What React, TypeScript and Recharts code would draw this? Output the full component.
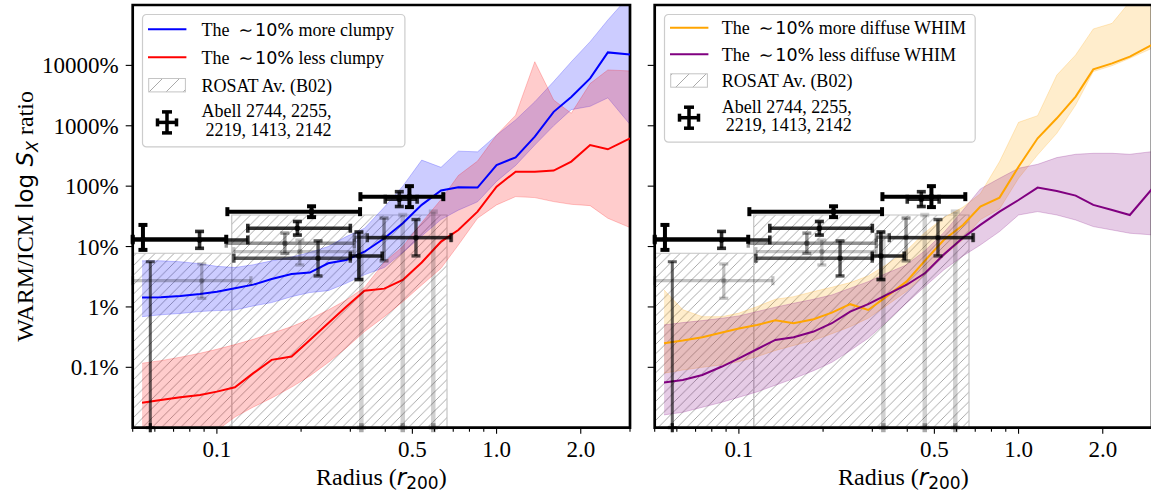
import React from "react";
import {
  ComposedChart,
  Area,
  Line,
  Scatter,
  ErrorBar,
  XAxis,
  YAxis,
  ReferenceArea,
  Legend,
} from "recharts";

const SERIF = '"Liberation Serif", "Times New Roman", serif';
const SANS = '"DejaVu Sans", sans-serif';

// radial grid of the simulated profiles (r / r200)
const radius = [0.054, 0.063, 0.074, 0.087, 0.1, 0.116, 0.135, 0.157, 0.185, 0.215, 0.25, 0.29, 0.337, 0.397, 0.462, 0.54, 0.633, 0.73, 0.855, 1.0, 1.17, 1.37, 1.6, 1.85, 2.16, 2.5, 3.0];

// ~10% more clumpy (blue)
const moreClumpy = [0.0143, 0.0145, 0.0152, 0.0164, 0.0179, 0.0204, 0.0234, 0.029, 0.0352, 0.037, 0.0528, 0.06, 0.082, 0.137, 0.243, 0.49, 0.85, 0.955, 0.946, 2.24, 3.0, 6.6, 17, 30, 61, 164, 152];
const moreClumpyLow = [0.0069, 0.0074, 0.0078, 0.0084, 0.0087, 0.0089, 0.0104, 0.0118, 0.0148, 0.0173, 0.0186, 0.0246, 0.034, 0.045, 0.08, 0.15, 0.28, 0.4, 0.55, 1.2, 2.2, 4.8, 10, 18.5, 21, 29, 10.5];
const moreClumpyHigh = [0.058, 0.058, 0.056, 0.052, 0.047, 0.045, 0.05, 0.058, 0.067, 0.08, 0.1, 0.146, 0.2, 0.45, 1.0, 2.7, 2.05, 3.8, 3.7, 7.0, 12.5, 25, 54, 115, 247, 565, 1465];

// ~10% less clumpy (red)
const lessClumpy = [0.00026, 0.000288, 0.000319, 0.000349, 0.000396, 0.000467, 0.0008, 0.00133, 0.00151, 0.00284, 0.00537, 0.0101, 0.0186, 0.0201, 0.028, 0.0545, 0.121, 0.188, 0.379, 0.98, 1.74, 1.74, 1.81, 2.55, 4.8, 4.08, 6.2];
const lessClumpyLow = [0.00003, 0.00004, 0.00005, 0.00006, 0.00009, 0.00015, 0.00022, 0.00031, 0.00047, 0.00072, 0.0012, 0.0021, 0.0039, 0.0069, 0.0122, 0.0231, 0.0436, 0.106, 0.294, 0.489, 0.671, 0.646, 0.555, 0.5, 0.476, 0.294, 0.206];
const lessClumpyHigh = [0.00117, 0.00129, 0.00147, 0.00171, 0.00199, 0.00238, 0.00291, 0.00366, 0.00472, 0.0063, 0.0089, 0.013, 0.021, 0.055, 0.1, 0.25, 0.6, 1.5, 2.6, 7.0, 15, 115, 26.7, 16.1, 50, 84, 81];

// ~10% more diffuse WHIM (orange)
const moreDiffuse = [0.0025, 0.00277, 0.00315, 0.00376, 0.00438, 0.00503, 0.006, 0.00537, 0.00625, 0.00806, 0.0111, 0.0089, 0.0148, 0.0262, 0.058, 0.128, 0.228, 0.458, 0.646, 2.1, 6.2, 13.3, 30.4, 86, 108, 140, 218];
const moreDiffuseLow = [0.0008, 0.0009, 0.001, 0.0011, 0.00124, 0.0015, 0.0019, 0.0023, 0.0028, 0.0036, 0.0047, 0.0065, 0.0105, 0.018, 0.034, 0.07, 0.13, 0.28, 0.42, 1.35, 3.3, 7.5, 22, 79, 99, 131, 192];
const moreDiffuseHigh = [0.0191, 0.009, 0.0069, 0.0069, 0.0079, 0.0101, 0.0134, 0.0148, 0.018, 0.0212, 0.0253, 0.0326, 0.05, 0.085, 0.17, 0.3, 0.45, 0.75, 2.55, 11.4, 14.7, 69, 149, 401, 497, 1135, 3500];

// ~10% less diffuse WHIM (purple)
const lessDiffuse = [0.000558, 0.000618, 0.000748, 0.00103, 0.00141, 0.00199, 0.00284, 0.00315, 0.00391, 0.00537, 0.00838, 0.0111, 0.0158, 0.0231, 0.036, 0.074, 0.14, 0.228, 0.379, 0.59, 0.946, 0.833, 0.697, 0.489, 0.403, 0.333, 0.9];
const lessDiffuseLow = [0.000163, 0.00018, 0.000218, 0.000264, 0.000319, 0.000391, 0.000505, 0.00065, 0.00088, 0.00121, 0.00189, 0.00303, 0.0057, 0.0115, 0.0217, 0.041, 0.07, 0.106, 0.177, 0.333, 0.379, 0.333, 0.275, 0.214, 0.188, 0.166, 0.156];
const lessDiffuseHigh = [0.00503, 0.0055, 0.00594, 0.0065, 0.0071, 0.00837, 0.0099, 0.0115, 0.0134, 0.0158, 0.0204, 0.0262, 0.036, 0.0495, 0.085, 0.17, 0.4, 0.9, 1.35, 1.98, 2.3, 2.97, 3.37, 3.5, 3.5, 3.37, 3.73];

// ROSAT average (B02), stepped hatched region
const rosatEdges = [0.05, 0.113, 0.665];
const rosatTop = [0.0774, 0.333];

// Abell 2744, 2255, 2219, 1413, 2142 measurements
const obsRadius = [0.0544, 0.218, 0.488, 0.0867, 0.194, 0.449, 0.322, 0.23, 0.515, 0.0578, 0.175, 0.396, 0.0883, 0.198, 0.3285, 0.462, 0.594];
const obsRadiusLow = [0.03, 0.109, 0.326, 0.03, 0.129, 0.4, 0.3, 0.115, 0.345, 0.0578, 0.108, 0.31, 0.03, 0.115, 0.3285, 0.462, 0.594];
const obsRadiusHigh = [0.108, 0.325, 0.645, 0.129, 0.3, 0.52, 0.39, 0.3, 0.687, 0.0578, 0.31, 0.69, 0.1323, 0.31, 0.3285, 0.462, 0.594];
const obsRatio = [0.132, 0.378, 0.67, 0.1285, 0.201, 0.607, 0.0698, 0.064, 0.14, 0.00005, 0.1135, 0.142, 0.0272, 0.0824, 0.00005, 0.00005, 0.00005];
const obsRatioLow = [0.088, 0.307, 0.45, 0.0935, 0.155, 0.46, 0.0284, 0.0326, 0.07, 0.00002, 0.077, 0.058, 0.0139, 0.0495, 0.00002, 0.00002, 0.00002];
const obsRatioHigh = [0.228, 0.464, 1.0, 0.178, 0.26, 0.81, 0.174, 0.124, 0.28, 0.056, 0.167, 0.296, 0.0515, 0.128, 0.15, 0.333, 0.378];
const obsShade = [0, 0, 0, 1, 1, 1, 1, 2, 2, 3, 4, 4, 5, 5, 6, 6, 6];

const shades = [
  { alpha: 1, lw: 4, dot: true },
  { alpha: 0.82, lw: 3.6, dot: true },
  { alpha: 0.66, lw: 3.4, dot: true },
  { alpha: 0.62, lw: 3, dot: false },
  { alpha: 0.42, lw: 3.4, dot: true },
  { alpha: 0.24, lw: 3.2, dot: true },
  { alpha: 0.18, lw: 4.5, dot: false },
];

const xMajorTicks = [0.1, 0.5, 1, 2];
const xMajorLabels = ["0.1", "0.5", "1.0", "2.0"];
const xMinorTicks = [0.05, 0.06, 0.07, 0.08, 0.09, 0.2, 0.3, 0.4, 0.6, 0.7, 0.8, 0.9, 3];
const yTicks = [0.001, 0.01, 0.1, 1, 10, 100];
const yTickLabels = ["0.1%", "1%", "10%", "100%", "1000%", "10000%"];

const X_DOMAIN = [0.05, 3];
const Y_DOMAIN = [0.0001, 1000];

const clamp = (v: number, d: number[]) => Math.min(Math.max(v, d[0]), d[1]);

const clumpRows = radius.map((r, i) => ({
  r,
  a: moreClumpy[i],
  aBand: [moreClumpyLow[i], moreClumpyHigh[i]],
  b: lessClumpy[i],
  bBand: [lessClumpyLow[i], lessClumpyHigh[i]],
}));

const whimRows = radius.map((r, i) => ({
  r,
  a: moreDiffuse[i],
  aBand: [moreDiffuseLow[i], moreDiffuseHigh[i]],
  b: lessDiffuse[i],
  bBand: [lessDiffuseLow[i], lessDiffuseHigh[i]],
}));

// error bars are cut at the frame, as the axes clip them in the original
const obsGroups = shades.map((_, s) =>
  obsRadius
    .map((r, i) => {
      const v = clamp(obsRatio[i], Y_DOMAIN);
      return {
        r,
        v,
        ex: [r - clamp(obsRadiusLow[i], X_DOMAIN), clamp(obsRadiusHigh[i], X_DOMAIN) - r],
        ey: [v - clamp(obsRatioLow[i], Y_DOMAIN), clamp(obsRatioHigh[i], Y_DOMAIN) - v],
        s: obsShade[i],
      };
    })
    .filter((p) => p.s === s)
);

const XTick = (props: any) => {
  const { x, y, payload } = props;
  const idx = xMajorTicks.indexOf(payload.value);
  const major = idx >= 0;
  return (
    <g>
      <line x1={x} x2={x} y1={y} y2={y + (major ? 6 : 4)} stroke="#000" strokeWidth={1.1} />
      {major && (
        <text x={x} y={y + 29} textAnchor="middle" fontSize={23} fontFamily={SERIF} fill="#000">
          {xMajorLabels[idx]}
        </text>
      )}
    </g>
  );
};

const makeYTick = (showLabel: boolean) => (props: any) => {
  const { x, y, payload } = props;
  const idx = yTicks.indexOf(payload.value);
  return (
    <g>
      <line x1={x - 7} x2={x} y1={y} y2={y} stroke="#000" strokeWidth={1.1} />
      {showLabel && idx >= 0 && (
        <text x={x - 14} y={y} dy="0.35em" textAnchor="end" fontSize={23} fontFamily={SERIF} fill="#000">
          {yTickLabels[idx]}
        </text>
      )}
    </g>
  );
};

const YTitle = (props: any) => {
  const vb = props.viewBox || { x: 0, y: 5, width: 132, height: 423 };
  const cx = vb.x + 25;
  const cy = vb.y + vb.height / 2;
  return (
    <text x={cx} y={cy} dy="0.35em" textAnchor="middle" transform={`rotate(-90, ${cx}, ${cy})`} fontSize={24} fontFamily={SERIF} fill="#000">
      WARM/ICM{" "}
      <tspan fontFamily={SANS} fontSize={23}>log </tspan>
      <tspan fontFamily={SANS} fontStyle="italic" fontSize={23}>S</tspan>
      <tspan fontFamily={SANS} fontStyle="italic" fontSize={16} dy={5}>X</tspan>
      <tspan dy={-5}> ratio</tspan>
    </text>
  );
};

const XTitle = (props: any) => {
  const vb = props.viewBox || { x: 132, y: 428, width: 497, height: 67 };
  return (
    <text x={vb.x + vb.width / 2} y={vb.y + 57} textAnchor="middle" fontSize={24} fontFamily={SERIF} fill="#000">
      Radius (<tspan fontFamily={SANS} fontStyle="italic" fontSize={23}>r</tspan>
      <tspan fontFamily={SANS} fontSize={17} dy={4}>200</tspan>
      <tspan dy={-4}>)</tspan>
    </text>
  );
};

type LegendLayout = { left: number; top: number; w: number; h: number; textX: number; rows: number[] };

const HatchPattern = ({ id, step }: { id: string; step: number }) => {
  const q = step / 4;
  return (
    <pattern id={id} patternUnits="userSpaceOnUse" width={step} height={step}>
      <path
        d={`M${-q},${q} L${q},${-q} M0,${step} L${step},0 M${step - q},${step + q} L${step + q},${step - q}`}
        stroke="#a0a0a0"
        strokeWidth={0.9}
      />
    </pattern>
  );
};

const LegendPanel = ({ layout, labels, colors, hatchId }: { layout: LegendLayout; labels: string[]; colors: string[]; hatchId: string }) => {
  const { w, h, textX, rows } = layout;
  const cx = 25;
  const cy = rows[3] + 5;
  return (
    <svg width={w} height={h} style={{ display: "block", overflow: "visible" }}>
      <defs>
        <HatchPattern id={hatchId} step={17} />
      </defs>
      <rect x={0.5} y={0.5} width={w - 1} height={h - 1} rx={4} fill="#fff" fillOpacity={0.8} stroke="#cccccc" strokeWidth={1.2} />
      {[0, 1].map((i) => (
        <g key={i}>
          <line x1={6} x2={44.4} y1={rows[i] - 6.5} y2={rows[i] - 6.5} stroke={colors[i]} strokeWidth={2} />
          <text x={textX} y={rows[i]} fontSize={18} fontFamily={SERIF} fill="#000">
            The
            <tspan dx={9} fontFamily={SANS} fontSize={17.5}>∼</tspan>
            <tspan dx={2} fontFamily={SANS} fontSize={17.5}>10%</tspan>
            {" " + labels[i]}
          </text>
        </g>
      ))}
      <rect x={6.7} y={rows[2] - 13.5} width={36.7} height={13.4} fill={`url(#${hatchId})`} stroke="#c4c4c4" strokeWidth={1} />
      <text x={textX} y={rows[2]} fontSize={18} fontFamily={SERIF} fill="#000">
        {labels[2]}
      </text>
      <g stroke="#000" strokeWidth={3.5}>
        <line x1={cx - 9.5} x2={cx + 9.5} y1={cy} y2={cy} />
        <line x1={cx} x2={cx} y1={cy - 10.5} y2={cy + 10.5} />
        <line x1={cx - 9.5} x2={cx - 9.5} y1={cy - 4} y2={cy + 4} />
        <line x1={cx + 9.5} x2={cx + 9.5} y1={cy - 4} y2={cy + 4} />
        <line x1={cx - 5} x2={cx + 5} y1={cy - 10.5} y2={cy - 10.5} />
        <line x1={cx - 5} x2={cx + 5} y1={cy + 10.5} y2={cy + 10.5} />
      </g>
      <text x={textX} y={rows[3]} fontSize={18} fontFamily={SERIF} fill="#000">
        {labels[3]}
      </text>
      <text x={textX + 4} y={rows[4]} fontSize={18} fontFamily={SERIF} fill="#000">
        {labels[4]}
      </text>
    </svg>
  );
};

type PanelProps = {
  id: string;
  width: number;
  yAxisWidth: number;
  marginRight: number;
  showYLabels: boolean;
  rows: any[];
  colors: string[];
  labels: string[];
  legend: LegendLayout;
};

const Panel = ({ id, width, yAxisWidth, marginRight, showYLabels, rows, colors, labels, legend }: PanelProps) => (
  <ComposedChart width={width} height={495} data={rows} margin={{ top: 5, right: marginRight, bottom: 0, left: 0 }}>
    <defs>
      <HatchPattern id={`hatch-${id}`} step={9.5} />
    </defs>
    <XAxis
      dataKey="r"
      type="number"
      scale="log"
      domain={X_DOMAIN}
      allowDataOverflow
      ticks={[...xMinorTicks, ...xMajorTicks].sort((p, q) => p - q)}
      interval={0}
      tickSize={0}
      tickMargin={0}
      tickLine={false}
      axisLine={false}
      height={67.3}
      tick={XTick}
      label={XTitle}
    />
    <YAxis
      type="number"
      scale="log"
      domain={Y_DOMAIN}
      allowDataOverflow
      ticks={yTicks}
      interval={0}
      tickSize={0}
      tickMargin={0}
      tickLine={false}
      axisLine={false}
      width={yAxisWidth}
      tick={makeYTick(showYLabels)}
      label={showYLabels ? YTitle : undefined}
    />
    {rosatTop.map((top, i) => (
      <ReferenceArea
        key={`rosat-${i}`}
        x1={rosatEdges[i]}
        x2={rosatEdges[i + 1]}
        y1={Y_DOMAIN[0]}
        y2={top}
        fill={`url(#hatch-${id})`}
        fillOpacity={1}
        stroke="#c4c4c4"
        strokeWidth={1.2}
      />
    ))}
    <Area type="linear" dataKey="aBand" fill={colors[0]} fillOpacity={0.2} stroke={colors[0]} strokeOpacity={0.22} strokeWidth={1} isAnimationActive={false} activeDot={false} />
    <Area type="linear" dataKey="bBand" fill={colors[1]} fillOpacity={0.2} stroke={colors[1]} strokeOpacity={0.22} strokeWidth={1} isAnimationActive={false} activeDot={false} />
    <Line type="linear" dataKey="a" stroke={colors[0]} strokeWidth={2} dot={false} activeDot={false} isAnimationActive={false} />
    <Line type="linear" dataKey="b" stroke={colors[1]} strokeWidth={2} dot={false} activeDot={false} isAnimationActive={false} />
    {obsGroups.map((pts, s) => (
      <Scatter
        key={`obs-${s}`}
        data={pts}
        dataKey="v"
        isAnimationActive={false}
        shape={(p: any) =>
          shades[s].dot ? <circle cx={p.cx} cy={p.cy} r={2.8} fill="#000" fillOpacity={shades[s].alpha} /> : <g />
        }
      >
        <ErrorBar dataKey="ex" direction="x" width={4.5} stroke="#000" strokeOpacity={shades[s].alpha} strokeWidth={shades[s].lw} isAnimationActive={false} />
        <ErrorBar dataKey="ey" direction="y" width={4.5} stroke="#000" strokeOpacity={shades[s].alpha} strokeWidth={shades[s].lw} isAnimationActive={false} />
      </Scatter>
    ))}
    <ReferenceArea x1={X_DOMAIN[0]} x2={X_DOMAIN[1]} y1={Y_DOMAIN[0]} y2={Y_DOMAIN[1]} fill="none" stroke="#000" strokeWidth={2.7} />
    <Legend
      verticalAlign="middle"
      align="center"
      wrapperStyle={{ position: "absolute", left: legend.left, top: legend.top, width: legend.w, height: legend.h }}
      content={() => <LegendPanel layout={legend} labels={labels} colors={colors} hatchId={`legend-hatch-${id}`} />}
    />
  </ComposedChart>
);

const clumpLabels = ["more clumpy", "less clumpy", "ROSAT Av. (B02)", "Abell 2744, 2255,", "2219, 1413, 2142"];
const whimLabels = ["more diffuse WHIM", "less diffuse WHIM", "ROSAT Av. (B02)", "Abell 2744, 2255,", "2219, 1413, 2142"];

export default function App() {
  return (
    <div style={{ position: "absolute", left: 0, top: 0, width: 1151, height: 495, overflow: "hidden", background: "#fff" }}>
      <div style={{ position: "absolute", left: 0, top: 0 }}>
        <Panel
          id="clump"
          width={640}
          yAxisWidth={132.7}
          marginRight={10}
          showYLabels
          rows={clumpRows}
          colors={["#0000ff", "#ff0000"]}
          labels={clumpLabels}
          legend={{ left: 142.3, top: 14.3, w: 263.4, h: 133.4, textX: 59.4, rows: [21.7, 49.7, 78, 103.4, 121.7] }}
        />
      </div>
      <div style={{ position: "absolute", left: 620, top: 0 }}>
        <Panel
          id="whim"
          width={532}
          yAxisWidth={34.7}
          marginRight={0}
          showYLabels={false}
          rows={whimRows}
          colors={["#ffa500", "#800080"]}
          labels={whimLabels}
          legend={{ left: 44, top: 14, w: 311.7, h: 128.7, textX: 57.7, rows: [20.3, 46.7, 73.3, 98.7, 117] }}
        />
      </div>
    </div>
  );
}
